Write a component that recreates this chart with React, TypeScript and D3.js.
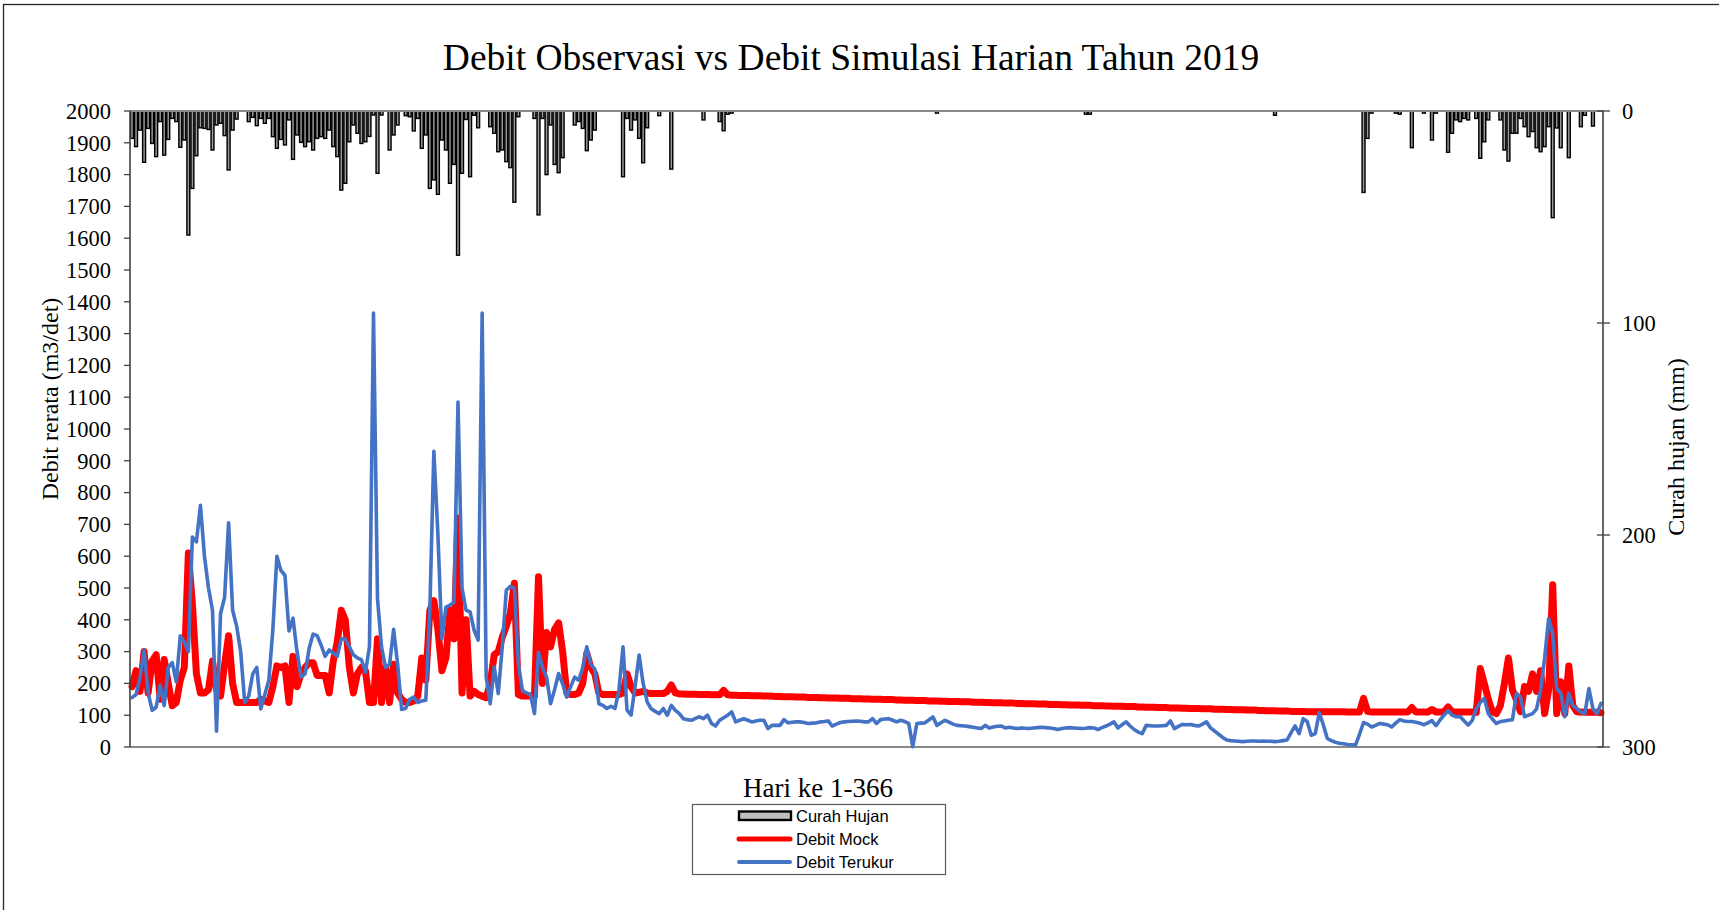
import React from "react";
import * as d3 from "d3";

// Daily series for 2019 (day 1..366)
const DAYS: number[] = d3.range(1, 367);

// Curah hujan (mm) per day
const RAIN: number[] = [
  12.9, 16.8, 9, 24.2, 8.2, 15.3, 21.5, 5, 20.8, 13.4,
  3.5, 5, 17.1, 13.7, 58.5, 36.5, 21.1, 7.9, 8.2, 8.7,
  18.4, 6.6, 5.8, 11.6, 27.8, 9, 3.8, 0, 0, 5,
  3, 6.9, 3.5, 5.8, 3.5, 12.1, 17.6, 13.4, 16, 4.2,
  22.8, 11.3, 14.8, 16.8, 14.5, 18.4, 12.9, 12.1, 12.9, 9,
  16.8, 21.5, 37.3, 34.1, 14.5, 6.6, 10.5, 15.3, 14.5, 12,
  1.9, 29.4, 1.9, 0, 18.4, 11.3, 6.6, 0, 2.2, 2.7,
  9.4, 3.5, 17.6, 11.3, 36.5, 32.5, 39.3, 13.7, 18.4, 34.1,
  25.2, 68, 29.4, 4, 31, 2, 7.9, 0, 0, 7.4,
  10.5, 19.2, 18.4, 23.9, 26.7, 43, 2.7, 0, 0, 0,
  3.5, 49, 3.5, 30, 6.6, 25.2, 29.1, 22, 0, 0,
  6.6, 5, 8.2, 18.7, 13.7, 9, 0, 0, 0, 0,
  0, 0, 31, 3.5, 9, 4.2, 12.9, 24.4, 7.9, 0,
  0, 2.2, 0, 0, 27.4, 0, 0, 0, 0, 0,
  0, 0, 4.2, 0, 0, 0, 5, 9.3, 1.5, 1,
  0, 0, 0, 0, 0, 0, 0, 0, 0, 0,
  0, 0, 0, 0, 0, 0, 0, 0, 0, 0,
  0, 0, 0, 0, 0, 0, 0, 0, 0, 0,
  0, 0, 0, 0, 0, 0, 0, 0, 0, 0,
  0, 0, 0, 0, 0, 0, 0, 0, 0, 0,
  1, 0, 0, 0, 0, 0, 0, 0, 0, 0,
  0, 0, 0, 0, 0, 0, 0, 0, 0, 0,
  0, 0, 0, 0, 0, 0, 0, 0, 0, 0,
  0, 0, 0, 0, 0, 0, 0, 1.5, 1.5, 0,
  0, 0, 0, 0, 0, 0, 0, 0, 0, 0,
  0, 0, 0, 0, 0, 0, 0, 0, 0, 0,
  0, 0, 0, 0, 0, 0, 0, 0, 0, 0,
  0, 0, 0, 0, 0, 0, 0, 0, 0, 0,
  0, 0, 0, 0, 2, 0, 0, 0, 0, 0,
  0, 0, 0, 0, 0, 0, 0, 0, 0, 0,
  0, 0, 0, 0, 0, 0, 38.4, 12.9, 1, 0,
  0, 0, 0, 0, 1, 1.5, 0, 0, 17.3, 0,
  0, 1, 0, 13.7, 1, 0, 0, 19.5, 10.5, 4.2,
  5, 3.5, 4.2, 0, 3.5, 22.3, 14.5, 4.2, 0, 0,
  4.2, 18.4, 23.6, 10.5, 10.5, 3.5, 7.4, 12.1, 9.7, 17.3,
  19.2, 16.8, 7.4, 50.3, 8, 17.3, 0, 22, 0, 0,
  7.4, 2, 0, 7.1, 0, 0,
];

// Debit Mock (m3/det) per day
const MOCK: number[] = [
  190, 240, 175, 300, 170, 270, 290, 150, 275, 200,
  130, 140, 210, 250, 610, 450, 230, 170, 170, 180,
  270, 180, 160, 260, 350, 200, 140, 140, 140, 140,
  140, 140, 150, 145, 140, 190, 255, 250, 255, 140,
  285, 190, 230, 250, 265, 265, 225, 225, 225, 170,
  270, 330, 430, 400, 250, 170, 230, 250, 240, 140,
  140, 340, 140, 250, 140, 260, 170, 150, 140, 140,
  145, 160, 280, 210, 430, 460, 370, 240, 280, 430,
  340, 720, 170, 400, 160, 175, 165, 160, 155, 200,
  290, 300, 345, 380, 420, 515, 165, 160, 160, 160,
  160, 535, 200, 360, 315, 370, 390, 300, 170, 165,
  165, 170, 200, 295, 250, 230, 170, 165, 165, 165,
  165, 165, 170, 230, 190, 170, 172, 175, 170, 168,
  168, 168, 168, 175, 195, 170, 167, 167, 166, 166,
  166, 165, 165, 165, 164, 164, 164, 178, 164, 163,
  163, 162, 162, 162, 161, 161, 161, 160, 160, 160,
  159, 159, 158, 158, 158, 157, 157, 157, 156, 156,
  156, 155, 155, 154, 154, 154, 153, 153, 153, 152,
  152, 152, 151, 151, 150, 150, 150, 149, 149, 149,
  148, 148, 147, 147, 147, 146, 146, 146, 145, 145,
  145, 144, 144, 143, 143, 143, 142, 142, 142, 141,
  141, 141, 140, 140, 139, 139, 139, 138, 138, 138,
  137, 137, 136, 136, 136, 135, 135, 135, 134, 134,
  134, 133, 133, 132, 132, 132, 131, 131, 131, 130,
  130, 130, 129, 129, 128, 128, 128, 127, 127, 127,
  126, 126, 125, 125, 125, 124, 124, 124, 123, 123,
  123, 122, 122, 121, 121, 121, 120, 120, 120, 119,
  119, 119, 118, 118, 117, 117, 117, 116, 116, 116,
  115, 115, 114, 114, 114, 113, 113, 113, 112, 112,
  112, 112, 111, 111, 111, 111, 111, 111, 111, 111,
  111, 111, 110, 110, 110, 110, 153, 112, 110, 110,
  110, 110, 110, 110, 110, 110, 110, 110, 124, 110,
  110, 110, 110, 118, 110, 110, 110, 126, 110, 110,
  110, 110, 110, 110, 109, 247, 200, 150, 111, 105,
  130, 200, 280, 180, 148, 111, 190, 175, 230, 175,
  240, 105, 180, 510, 105, 205, 105, 255, 130, 111,
  110, 109, 109, 109, 109, 108,
];

// Debit Terukur (m3/det) per day
const OBS: number[] = [
  155, 165, 220, 305, 170, 115, 125, 195, 130, 250,
  265, 205, 350, 330, 300, 660, 645, 760, 600, 500,
  430, 50, 420, 470, 705, 430, 380, 300, 140, 160,
  230, 250, 120, 165, 210, 370, 600, 555, 540, 365,
  405, 300, 220, 230, 310, 355, 350, 320, 285, 305,
  295, 285, 340, 340, 315, 290, 280, 275, 235, 315,
  1365, 465, 315, 250, 260, 370, 260, 118, 122, 150,
  157, 140, 145, 147, 430, 930, 670, 340, 440, 446,
  455, 1085, 500, 430, 425, 367, 336, 1365, 220, 136,
  252, 168, 315, 493, 505, 500, 262, 178, 170, 165,
  105, 298, 250, 220, 136, 180, 231, 199, 157, 190,
  220, 210, 250, 315, 260, 245, 136, 131, 121, 128,
  121, 180, 315, 116, 100, 190, 289, 200, 142, 120,
  112, 105, 121, 100, 131, 115, 105, 89, 86, 84,
  90, 95, 89, 100, 74, 66, 84, 92, 100, 110,
  79, 84, 89, 84, 79, 82, 84, 84, 58, 68,
  68, 68, 86, 76, 78, 79, 79, 77, 74, 75,
  76, 79, 80, 82, 66, 72, 77, 79, 80, 81,
  82, 81, 79, 79, 89, 74, 86, 88, 89, 84,
  79, 84, 80, 74, 1, 74, 75, 76, 85, 95,
  68, 76, 84, 78, 72, 68, 67, 66, 64, 62,
  60, 58, 68, 60, 63, 65, 66, 60, 62, 60,
  58, 60, 59, 58, 60, 61, 62, 61, 60, 58,
  55, 58, 60, 61, 60, 59, 58, 59, 61, 60,
  55, 61, 66, 72, 79, 60, 70, 79, 66, 55,
  47, 42, 68, 67, 66, 66, 67, 68, 82, 58,
  65, 71, 70, 71, 68, 66, 72, 79, 60, 50,
  40, 30, 22, 20, 19, 18, 17, 18, 19, 19,
  18, 19, 18, 18, 17, 18, 20, 22, 45, 66,
  42, 89, 80, 37, 42, 108, 70, 27, 20, 15,
  12, 10, 8, 7, 6, 40, 77, 72, 63, 68,
  74, 72, 70, 63, 75, 86, 82, 80, 80, 78,
  75, 70, 76, 83, 67, 85, 100, 114, 100, 95,
  96, 82, 69, 83, 120, 140, 153, 105, 88, 74,
  80, 82, 84, 86, 169, 158, 95, 100, 105, 120,
  180, 280, 404, 357, 184, 170, 95, 169, 130, 121,
  110, 105, 184, 120, 105, 137,
];

const LEFT_TICKS: number[] = d3.range(0, 2001, 100);
const RIGHT_TICKS: number[] = [0, 100, 200, 300];

const TITLE = "Debit Observasi vs Debit Simulasi Harian Tahun 2019";
const Y_LEFT_TITLE = "Debit rerata (m3/det)";
const Y_RIGHT_TITLE = "Curah hujan (mm)";
const X_TITLE = "Hari ke 1-366";
const LEGEND = ["Curah Hujan", "Debit Mock", "Debit Terukur"];

const SERIF = "'Liberation Serif', 'Times New Roman', serif";
const SANS = "'Liberation Sans', Arial, sans-serif";
const RED = "#FF0000";
const BLUE = "#4472C4";

export default function App() {
  const W = 1719;
  const H = 910;
  const left = 130;
  const right = 1603;
  const top = 111;
  const bottom = 747;

  const x = d3.scaleBand<number>().domain(DAYS).range([left, right]).padding(0);
  const bw = x.bandwidth();
  const cx = (d: number) => (x(d) as number) + bw / 2;
  const yL = d3.scaleLinear().domain([0, 2000]).range([bottom, top]);
  const yR = d3.scaleLinear().domain([0, 300]).range([top, bottom]);

  const lineGen = d3
    .line<number>()
    .x((_, i) => cx(DAYS[i]))
    .y((v) => yL(v));

  const barW = 2.9;

  return (
    <svg
      width={W}
      height={H}
      style={{ position: "absolute", left: 0, top: 0, background: "#fff" }}
    >
      <rect x={0} y={0} width={W} height={H} fill="#fff" />
      {/* chart area frame */}
      <rect x={3.5} y={4.5} width={W + 50} height={H + 50} fill="none" stroke="#262626" strokeWidth={1.3} />

      <text x={851} y={70} textAnchor="middle" fontFamily={SERIF} fontSize={37.5} fill="#000">
        {TITLE}
      </text>

      {/* rainfall bars hanging from the top */}
      <g>
        {DAYS.map((d, i) =>
          RAIN[i] > 0 ? (
            <rect
              key={d}
              x={(x(d) as number) + (bw - barW) / 2}
              y={yR(0)}
              width={barW}
              height={yR(RAIN[i]) - yR(0)}
              fill="#9A9A9A"
              stroke="#000"
              strokeWidth={1.45}
            />
          ) : null
        )}
      </g>

      {/* horizontal axes */}
      <line x1={left} x2={right} y1={top} y2={top} stroke="#898989" strokeWidth={2} />
      <line x1={left} x2={right} y1={bottom} y2={bottom} stroke="#898989" strokeWidth={2} />

      {/* discharge lines */}
      <path d={lineGen(MOCK) || ""} fill="none" stroke={RED} strokeWidth={7} strokeLinejoin="round" strokeLinecap="round" />
      <path d={lineGen(OBS) || ""} fill="none" stroke={BLUE} strokeWidth={3.6} strokeLinejoin="round" strokeLinecap="round" />

      {/* left axis */}
      <line x1={left} x2={left} y1={top} y2={bottom} stroke="#404040" strokeWidth={1.6} />
      {LEFT_TICKS.map((t) => (
        <g key={t}>
          <line x1={left - 6} x2={left} y1={yL(t)} y2={yL(t)} stroke="#404040" strokeWidth={1.3} />
          <text x={111} y={yL(t)} dy="0.35em" textAnchor="end" fontFamily={SERIF} fontSize={22.5} fill="#000">
            {t}
          </text>
        </g>
      ))}

      {/* right axis */}
      <line x1={right} x2={right} y1={top} y2={bottom} stroke="#404040" strokeWidth={1.6} />
      {RIGHT_TICKS.map((t) => (
        <g key={t}>
          <line x1={right - 6} x2={right + 7} y1={yR(t)} y2={yR(t)} stroke="#404040" strokeWidth={1.3} />
          <text x={1622} y={yR(t)} dy="0.35em" textAnchor="start" fontFamily={SERIF} fontSize={22.5} fill="#000">
            {t}
          </text>
        </g>
      ))}

      <text
        transform={`translate(50,399) rotate(-90)`}
        textAnchor="middle"
        dy="0.35em"
        fontFamily={SERIF}
        fontSize={24}
        fill="#000"
      >
        {Y_LEFT_TITLE}
      </text>
      <text
        transform={`translate(1676,447) rotate(-90)`}
        textAnchor="middle"
        dy="0.35em"
        fontFamily={SERIF}
        fontSize={24}
        fill="#000"
      >
        {Y_RIGHT_TITLE}
      </text>

      <text x={818} y={797} textAnchor="middle" fontFamily={SERIF} fontSize={27} fill="#000">
        {X_TITLE}
      </text>

      {/* legend */}
      <g>
        <rect x={692.5} y={804.5} width={253} height={70} fill="#fff" stroke="#595959" strokeWidth={1.2} />
        <rect x={739} y={811.5} width={52} height={8.5} fill="#BFBFBF" stroke="#000" strokeWidth={2.4} />
        <line x1={739} x2={790} y1={839} y2={839} stroke={RED} strokeWidth={5} strokeLinecap="round" />
        <line x1={739} x2={790} y1={862} y2={862} stroke={BLUE} strokeWidth={4} strokeLinecap="round" />
        {LEGEND.map((l, i) => (
          <text key={l} x={796} y={816 + i * 23} dy="0.35em" fontFamily={SANS} fontSize={16.5} fill="#000">
            {l}
          </text>
        ))}
      </g>
    </svg>
  );
}
